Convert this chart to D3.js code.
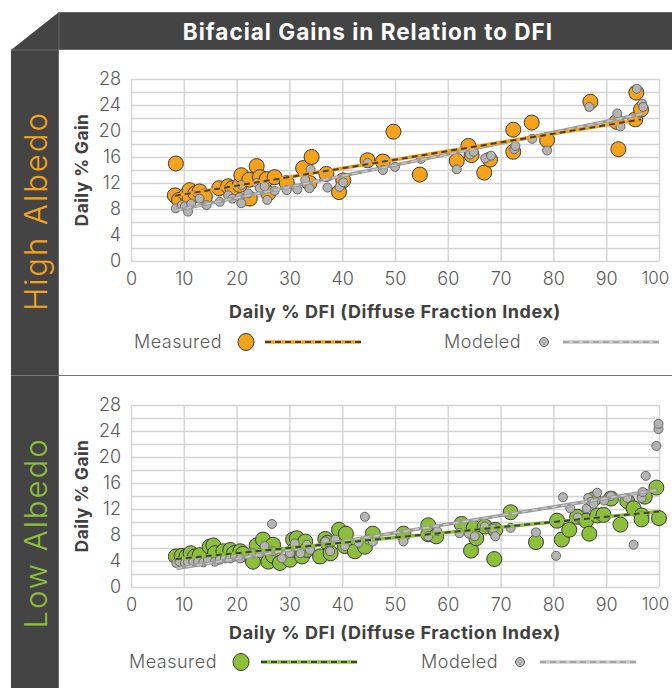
<!DOCTYPE html>
<html>
<head>
<meta charset="utf-8">
<script src="https://cdn.jsdelivr.net/npm/d3@7"></script>
<style>
  body { margin: 0; background: #fff; }
  text { font-family: Inter, "Open Sans", sans-serif; }
</style>
</head>
<body>
<div id="chart"></div>
<script>
// [DFI %, daily % gain]
const highMeasured = [[8.5,15.0],[8.3,10.1],[9.1,9.4],[10.5,10.2],[11.1,10.9],[11.1,9.5],[12.2,10.4],[13.0,10.7],[14.0,9.9],[16.7,11.2],[18.4,11.5],[19.2,11.2],[20.6,11.7],[20.9,13.2],[22.4,12.5],[22.5,9.6],[23.8,14.6],[24.4,12.9],[25.7,12.6],[26.0,10.4],[27.2,12.9],[29.5,12.0],[32.6,14.3],[33.8,12.0],[34.2,16.0],[37.0,13.4],[39.4,10.6],[40.2,12.4],[44.8,15.5],[47.7,15.3],[49.7,19.9],[54.7,13.3],[61.7,15.4],[63.9,17.7],[64.5,16.3],[66.9,13.6],[68.0,15.6],[72.4,20.2],[72.4,16.8],[75.9,21.3],[78.8,18.6],[87.0,24.5],[92.0,21.4],[92.3,17.2],[95.5,21.8],[95.7,25.9],[96.6,23.3]];
const highModeled = [[8.5,8.1],[9.6,8.6],[10.2,8.4],[10.8,7.6],[11.4,8.8],[13.0,9.6],[14.3,8.6],[16.8,9.1],[18.4,10.1],[19.2,9.6],[20.6,9.8],[20.9,8.9],[20.9,11.7],[22.2,10.4],[23.8,12.0],[24.4,11.2],[25.3,11.5],[25.8,9.4],[27.2,10.8],[29.5,10.9],[31.5,11.0],[33.0,12.5],[33.8,11.2],[34.0,14.1],[37.2,11.3],[39.5,11.4],[40.2,12.1],[44.8,15.1],[47.7,14.0],[50.0,14.5],[54.9,15.7],[61.7,14.1],[64.2,16.4],[64.9,16.8],[67.1,15.8],[68.2,16.2],[72.6,17.2],[72.8,17.7],[76.0,18.8],[78.8,17.0],[86.8,23.7],[92.1,22.7],[92.7,20.7],[95.8,26.5],[96.8,24.2],[97.0,23.7]];
const lowMeasured = [[8.5,4.7],[9.6,4.8],[10.5,4.7],[11.3,5.2],[12.1,4.7],[13.0,4.9],[14.9,6.2],[15.6,6.4],[15.9,5.2],[17.5,5.5],[18.8,5.7],[19.5,5.2],[20.7,5.5],[21.2,5.1],[23.1,3.9],[23.8,6.4],[25.0,7.3],[26.0,3.9],[26.9,6.5],[26.9,4.8],[28.2,3.7],[30.1,4.2],[30.7,7.3],[31.0,5.7],[31.4,7.5],[32.1,6.3],[32.4,4.7],[33.0,7.0],[33.3,5.7],[35.8,4.7],[36.8,7.4],[37.2,6.8],[37.8,5.2],[39.4,8.8],[40.5,6.3],[40.7,8.2],[42.4,5.5],[44.3,6.2],[45.8,8.2],[51.6,8.2],[56.3,9.5],[56.3,8.1],[57.8,7.8],[62.6,9.7],[64.4,5.6],[64.9,9.1],[65.4,7.5],[67.0,9.3],[68.8,4.3],[69.0,8.8],[71.9,11.5],[76.7,6.9],[80.7,10.2],[81.6,7.3],[83.0,8.8],[84.5,10.8],[86.2,10.2],[86.8,8.2],[87.6,13.5],[88.3,11.0],[89.5,11.1],[90.9,13.6],[92.7,9.6],[94.0,13.2],[95.2,12.1],[96.7,11.0],[96.7,10.4],[97.3,13.9],[99.5,15.3],[100.0,10.6]];
const lowModeled = [[8.6,3.7],[9.2,3.9],[10.2,3.7],[10.8,3.8],[11.8,3.9],[12.7,3.9],[13.7,3.8],[14.6,4.2],[15.9,3.9],[16.8,4.2],[17.8,4.4],[18.8,4.4],[19.7,4.7],[20.7,4.4],[23.1,5.2],[24.4,5.2],[25.3,6.3],[26.7,9.7],[26.9,5.5],[28.6,4.4],[30.1,5.2],[31.0,6.7],[32.1,5.2],[33.3,6.5],[33.9,5.7],[36.8,7.0],[37.7,5.5],[38.7,7.3],[40.5,6.3],[43.1,6.8],[44.3,10.8],[44.9,7.3],[45.8,7.0],[51.6,7.0],[56.3,7.8],[58.0,8.6],[62.2,8.3],[64.0,8.2],[65.1,7.8],[67.0,9.3],[68.6,9.0],[69.0,7.8],[71.9,9.1],[76.7,8.4],[80.5,4.8],[81.8,13.8],[83.2,12.1],[84.6,10.7],[86.3,12.1],[86.6,13.7],[87.1,13.1],[87.6,12.8],[88.3,14.5],[89.6,13.3],[90.9,14.0],[94.0,13.7],[95.2,6.5],[96.7,13.7],[96.9,14.6],[97.5,17.1],[99.5,21.7],[99.9,24.3],[99.9,25.1]];

const xTicks = [0,10,20,30,40,50,60,70,80,90,100];
const yTicks = [0,4,8,12,16,20,24,28];
const yGrid = d3.range(0, 29, 2);

const title = "Bifacial Gains in Relation to DFI";
const xLabel = "Daily % DFI (Diffuse Fraction Index)";
const yLabel = "Daily % Gain";
const seriesNames = ["Measured", "Modeled"];

const W = 672, H = 688;
const dark = "#444444", edge = "#6a6a6a";
const orange = "#f5a31a", green = "#8cbf3a", grey = "#b4b4b4";

const svg = d3.select("#chart").append("svg")
    .attr("width", W).attr("height", H);

// frame: title bar, chamfer, left column
svg.append("rect").attr("x", 59).attr("y", 12).attr("width", W - 59).attr("height", 38)
    .attr("fill", dark);
svg.append("line").attr("x1", 59).attr("x2", W).attr("y1", 12.5).attr("y2", 12.5)
    .attr("stroke", edge).attr("stroke-width", 1);
svg.append("line").attr("x1", 59).attr("x2", W).attr("y1", 49.5).attr("y2", 49.5)
    .attr("stroke", edge).attr("stroke-width", 1);
svg.append("path").attr("d", "M59,12 L59,50 L11,50 Z").attr("fill", dark);
svg.append("rect").attr("x", 11).attr("y", 50).attr("width", 48).attr("height", H - 50)
    .attr("fill", dark);
svg.append("path").attr("d", "M59,12 L59,50 L11,50")
    .attr("fill", "none").attr("stroke", edge).attr("stroke-width", 1);
svg.append("line").attr("x1", 11).attr("x2", W).attr("y1", 375.5).attr("y2", 375.5)
    .attr("stroke", "#777").attr("stroke-width", 1);
svg.append("line").attr("x1", 58.5).attr("x2", 58.5).attr("y1", 50).attr("y2", H)
    .attr("stroke", edge).attr("stroke-width", 1);

svg.append("text").attr("x", 368).attr("y", 31)
    .attr("text-anchor", "middle").attr("dominant-baseline", "central")
    .attr("fill", "#fff").attr("font-size", 22.5).attr("font-weight", 700)
    .attr("letter-spacing", 1)
    .text(title);

function linearFit(pts) {
  const mx = d3.mean(pts, d => d[0]), my = d3.mean(pts, d => d[1]);
  const sxy = d3.sum(pts, d => (d[0] - mx) * (d[1] - my));
  const sxx = d3.sum(pts, d => (d[0] - mx) ** 2);
  const b = sxy / sxx;
  return x => my + b * (x - mx);
}

function drawPanel(cfg) {
  const x = d3.scaleLinear().domain([0, 100]).range([131, 659]);
  const y = d3.scaleLinear().domain([0, 28]).range([cfg.bottom, cfg.top]);
  const g = svg.append("g");

  // side label
  g.append("text")
    .attr("transform", `translate(35,${cfg.sideY}) rotate(-90)`)
    .attr("text-anchor", "middle").attr("dominant-baseline", "central")
    .attr("fill", cfg.color).attr("font-size", 31).attr("font-weight", 300)
    .attr("letter-spacing", 2)
    .text(cfg.name);

  // grid
  g.append("g").attr("transform", `translate(0,${cfg.bottom})`)
    .call(d3.axisBottom(x).tickValues(xTicks).tickSize(-(cfg.bottom - cfg.top)).tickFormat(""))
    .call(a => a.select(".domain").remove())
    .selectAll("line").attr("stroke", "#d4d4d4").attr("stroke-width", 1.5);
  g.append("g").attr("transform", "translate(131,0)")
    .call(d3.axisLeft(y).tickValues(yGrid).tickSize(-(659 - 131)).tickFormat(""))
    .call(a => a.select(".domain").remove())
    .selectAll("line").attr("stroke", "#d4d4d4").attr("stroke-width", 1.5);

  // tick labels
  const ax = g.append("g").attr("transform", `translate(0,${cfg.bottom})`)
    .call(d3.axisBottom(x).tickValues(xTicks).tickSize(0).tickPadding(11));
  const ay = g.append("g").attr("transform", "translate(131,0)")
    .call(d3.axisLeft(y).tickValues(yTicks).tickSize(0).tickPadding(10));
  [ax, ay].forEach(a => {
    a.select(".domain").remove();
    a.selectAll("text").attr("fill", "#595959").attr("font-size", 18)
      .attr("font-family", "Inter, sans-serif").attr("font-weight", 300);
  });
  // keep the last label inside the page
  ax.selectAll("text").filter(d => d === 100).attr("dx", -4).attr("font-size", 17);

  // axis titles
  g.append("text")
    .attr("transform", `translate(81,${(cfg.top + cfg.bottom) / 2}) rotate(-90)`)
    .attr("text-anchor", "middle").attr("dominant-baseline", "central")
    .attr("fill", "#404040").attr("font-size", 17.5).attr("font-weight", 700)
    .attr("letter-spacing", 0.4)
    .text(yLabel);
  g.append("text").attr("x", 395).attr("y", cfg.xTitleY)
    .attr("text-anchor", "middle").attr("dominant-baseline", "central")
    .attr("fill", "#404040").attr("font-size", 18).attr("font-weight", 700)
    .attr("letter-spacing", 0.6)
    .text(xLabel);

  // points
  g.append("g").selectAll("circle").data(cfg.measured).join("circle")
    .attr("cx", d => x(d[0])).attr("cy", d => y(d[1])).attr("r", 7.5)
    .attr("fill", cfg.color).attr("stroke", "#3a3a3a").attr("stroke-width", 1);
  g.append("g").selectAll("circle").data(cfg.modeled).join("circle")
    .attr("cx", d => x(d[0])).attr("cy", d => y(d[1])).attr("r", 4.5)
    .attr("fill", grey).attr("stroke", "#666").attr("stroke-width", 1);

  // trend lines
  const trend = (pts, base, dash, bw, dw) => {
    const f = linearFit(pts);
    const ext = d3.extent(pts, d => d[0]);
    const line = d3.line().x(d => x(d)).y(d => y(f(d)));
    g.append("path").datum(ext).attr("d", line)
      .attr("stroke", base).attr("stroke-width", bw).attr("fill", "none");
    g.append("path").datum(ext).attr("d", line)
      .attr("stroke", dash).attr("stroke-width", dw).attr("stroke-dasharray", "6,4").attr("fill", "none");
  };
  trend(cfg.modeled, "#9a9a9a", "#c8c8c8", 3.5, 1.5);
  trend(cfg.measured, cfg.color, "#404040", 3.5, 2);

  // legend
  const lg = g.append("g").attr("transform", `translate(0,${cfg.legendY})`);
  const lx = cfg.legendX;
  lg.append("text").attr("x", lx[0]).attr("y", 0).attr("dominant-baseline", "central")
    .attr("fill", "#595959").attr("font-size", 18).attr("font-weight", 300)
    .attr("letter-spacing", 0.5).text(seriesNames[0]);
  lg.append("ellipse").attr("cx", lx[1]).attr("cy", 1).attr("rx", 8).attr("ry", 8.5)
    .attr("fill", cfg.color).attr("stroke", "#3a3a3a");
  lg.append("line").attr("x1", lx[2]).attr("x2", lx[2] + 96).attr("y1", 1).attr("y2", 1)
    .attr("stroke", cfg.color).attr("stroke-width", 3.5);
  lg.append("line").attr("x1", lx[2]).attr("x2", lx[2] + 96).attr("y1", 1).attr("y2", 1)
    .attr("stroke", "#404040").attr("stroke-width", 2).attr("stroke-dasharray", "6,4");
  lg.append("text").attr("x", lx[3]).attr("y", 0).attr("dominant-baseline", "central")
    .attr("fill", "#595959").attr("font-size", 18).attr("font-weight", 300)
    .attr("letter-spacing", 0.5).text(seriesNames[1]);
  lg.append("circle").attr("cx", lx[4]).attr("cy", 1).attr("r", 4.5)
    .attr("fill", grey).attr("stroke", "#666");
  lg.append("line").attr("x1", lx[5]).attr("x2", lx[5] + 96).attr("y1", 1).attr("y2", 1)
    .attr("stroke", "#c8c8c8").attr("stroke-width", 3.5);
  lg.append("line").attr("x1", lx[5]).attr("x2", lx[5] + 96).attr("y1", 1).attr("y2", 1)
    .attr("stroke", "#999").attr("stroke-width", 1.5).attr("stroke-dasharray", "6,4");
}

drawPanel({
  name: "High Albedo", color: orange, sideY: 211,
  top: 79, bottom: 261, xTitleY: 311, legendY: 341,
  legendX: [134, 246, 265, 444, 544, 563],
  measured: highMeasured, modeled: highModeled
});
drawPanel({
  name: "Low Albedo", color: green, sideY: 533,
  top: 405, bottom: 587, xTitleY: 632, legendY: 661,
  legendX: [129, 241, 261, 421, 520, 540],
  measured: lowMeasured, modeled: lowModeled
});
</script>
</body>
</html>
